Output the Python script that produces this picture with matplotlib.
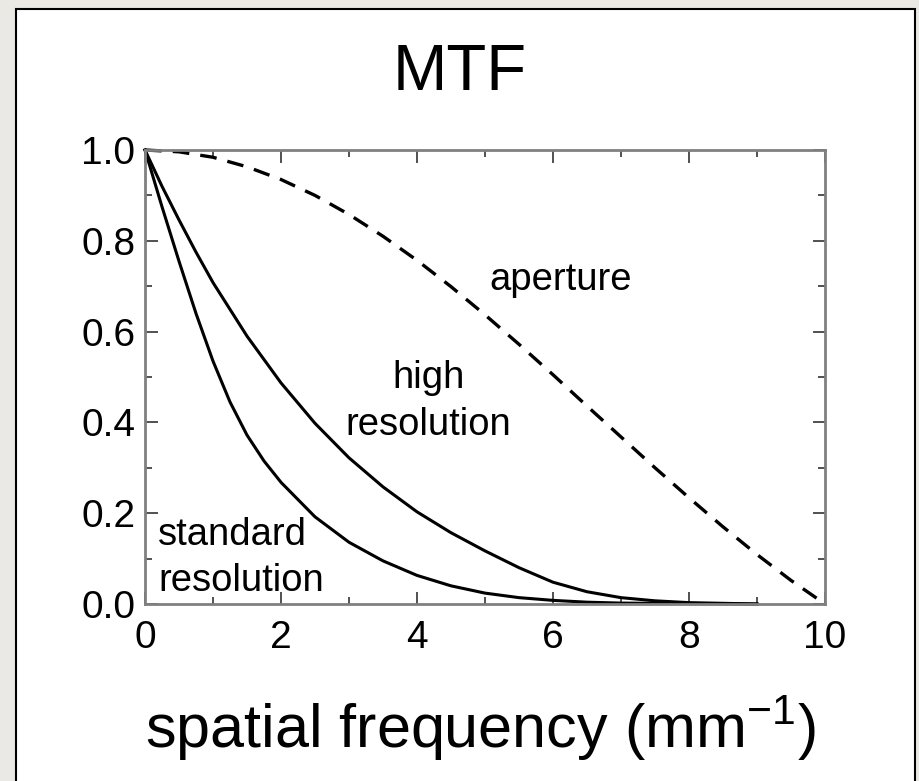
#!/usr/bin/env python3
"""
MTF curves: standard / high resolution detector and aperture.
Writes out.png (919x781).
"""

import matplotlib
matplotlib.use("Agg")
import matplotlib.pyplot as plt
from matplotlib import font_manager
from matplotlib.patches import Rectangle
from matplotlib.ticker import MultipleLocator

# -----------------------------------------------------------------------------
# DATA
# -----------------------------------------------------------------------------
std_x = [0, 0.25, 0.5, 0.75, 1.0, 1.25, 1.5, 1.75, 2.0, 2.5, 3.0, 3.5,
         4.0, 4.5, 5.0, 5.5, 6.0, 6.5, 7.0, 8.0, 9.0]
std_y = [1.0, 0.875, 0.755, 0.64, 0.535, 0.445, 0.372, 0.315, 0.268, 0.192,
         0.136, 0.095, 0.063, 0.040, 0.024, 0.014, 0.008, 0.004, 0.002,
         0.001, 0.0]

high_x = [0, 0.25, 0.5, 0.75, 1.0, 1.5, 2.0, 2.5, 3.0, 3.5, 4.0, 4.5,
          5.0, 5.5, 6.0, 6.5, 7.0, 7.5, 8.0, 9.0]
high_y = [1.0, 0.92, 0.846, 0.775, 0.708, 0.59, 0.487, 0.398, 0.322, 0.258,
          0.203, 0.157, 0.117, 0.080, 0.048, 0.027, 0.014, 0.007, 0.003, 0.0]

ap_x = [0, 0.5, 1.0, 1.5, 2.0, 2.5, 3.0, 3.5, 4.0, 4.5, 5.0, 5.5, 6.0,
        6.5, 7.0, 7.5, 8.0, 8.5, 9.0, 9.5, 10.0]
ap_y = [1.0, 0.996, 0.984, 0.963, 0.935, 0.90, 0.858, 0.81, 0.757, 0.699,
        0.637, 0.572, 0.505, 0.436, 0.368, 0.30, 0.234, 0.17, 0.109, 0.052,
        0.0]

TITLE = "MTF"
XLABEL = r"spatial frequency (mm$^{\mathregular{-1}}$)"

# -----------------------------------------------------------------------------
# FONTS
# -----------------------------------------------------------------------------
installed = {f.name for f in font_manager.fontManager.ttflist}
BASE = "Liberation Sans" if "Liberation Sans" in installed else "DejaVu Sans"
plt.rcParams["font.family"] = [BASE, "DejaVu Sans"]
plt.rcParams["mathtext.fontset"] = "custom"
plt.rcParams["mathtext.rm"] = BASE
plt.rcParams["lines.scale_dashes"] = False

W, H = 919, 781
fig = plt.figure(figsize=(W / 100, H / 100), dpi=100, facecolor="#ebe9e4")

# white panel with black border (behind the axes)
fig.patches.append(Rectangle((16 / W, -0.05), (915 - 16) / W, (H - 9) / H + 0.05,
                             transform=fig.transFigure, facecolor="white",
                             edgecolor="black", linewidth=1.5, zorder=-10))

ax = fig.add_axes([145 / W, 1 - 604 / H, (825 - 145) / W, (604 - 150) / H])
ax.set_zorder(5)
ax.set_facecolor("white")

ax.plot(std_x, std_y, color="black", lw=2.2, clip_on=False)
ax.plot(high_x, high_y, color="black", lw=2.2, clip_on=False)
ax.plot(ap_x, ap_y, color="black", lw=2.4, dashes=(12, 8), clip_on=False)

ax.set_xlim(0, 10)
ax.set_ylim(0, 1.0)
ax.xaxis.set_major_locator(MultipleLocator(2))
ax.xaxis.set_minor_locator(MultipleLocator(1))
ax.yaxis.set_major_locator(MultipleLocator(0.2))
ax.yaxis.set_minor_locator(MultipleLocator(0.1))
ax.set_xticklabels([f"{v:g}" for v in ax.get_xticks()])
ax.set_yticklabels([f"{v:.1f}" for v in ax.get_yticks()])

for s in ax.spines.values():
    s.set_color("#808080")
    s.set_linewidth(2.0)
ax.tick_params(which="both", direction="in", top=True, right=True,
               color="#333333", width=1.2)
ax.tick_params(which="major", length=9, labelsize=28, pad=7)
ax.tick_params(which="minor", length=5)
ax.tick_params(axis="x", which="major", pad=11.5)

# curve annotations
ax.text(5.07, 0.714, "aperture", fontsize=27.5, ha="left", va="center")
ax.text(4.17, 0.446, "high\nresolution", fontsize=27.5, ha="center",
        va="center", linespacing=1.42)
ax.text(0.19, 0.102, "standard\nresolution", fontsize=27.5, ha="left",
        va="center", linespacing=1.36)

fig.text(460 / W, 1 - 73 / H, TITLE, fontsize=47, ha="center", va="center")
fig.text(480 / W, 1 - 748 / H, XLABEL, fontsize=44, ha="center",
         va="baseline")

fig.savefig("out.png", dpi=100, facecolor=fig.get_facecolor())
